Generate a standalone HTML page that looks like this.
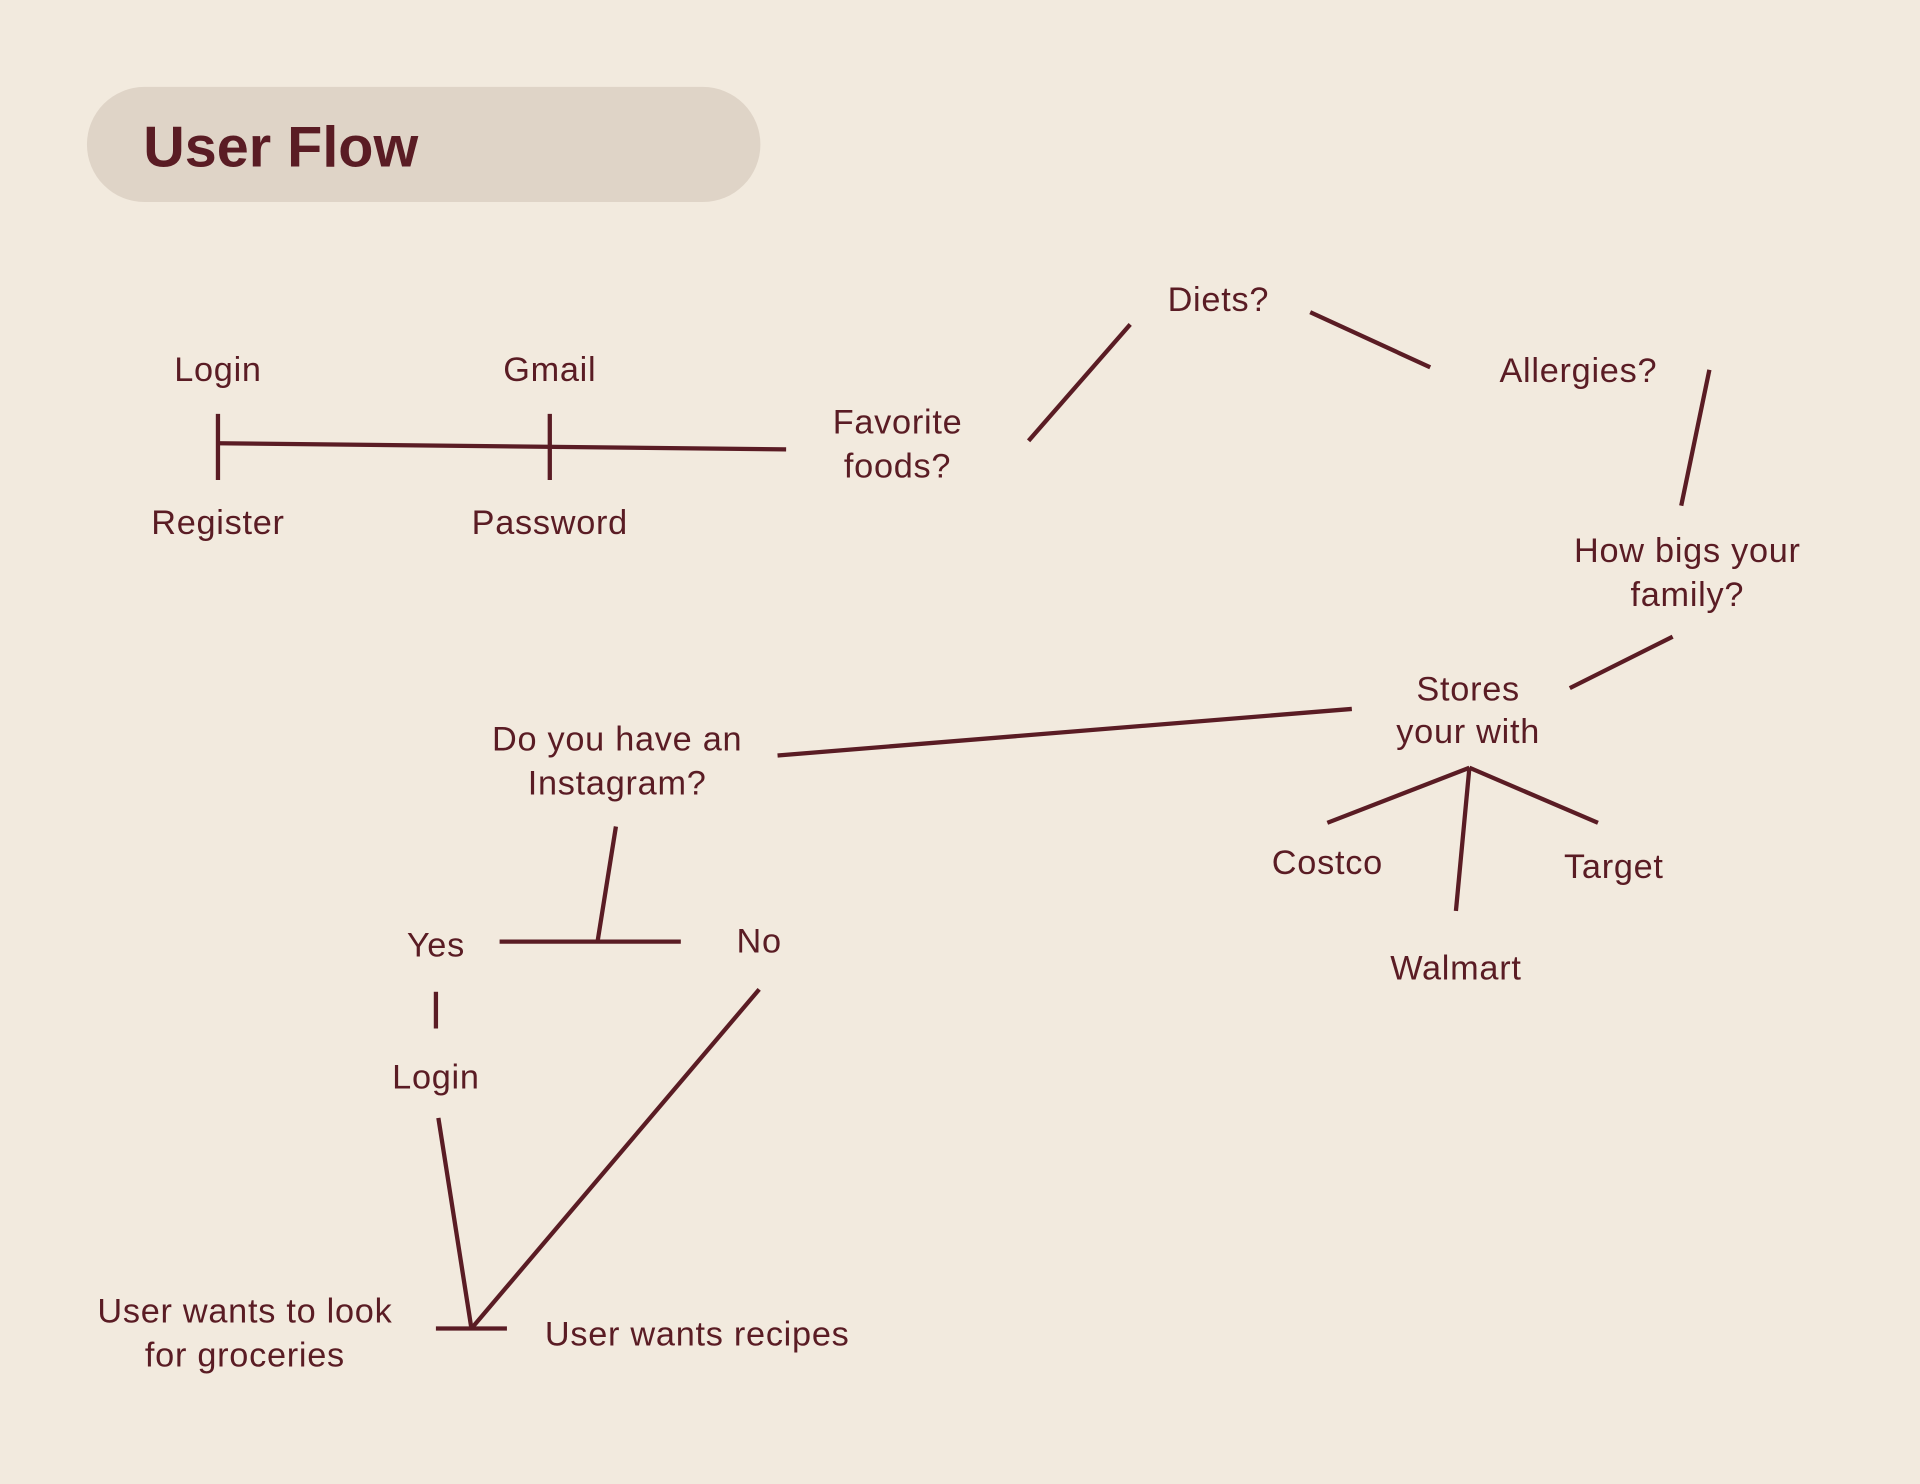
<!DOCTYPE html>
<html><head><meta charset="utf-8"><style>
html,body{margin:0;padding:0;background:#f2eade;}
svg{display:block}
text{font-family:"Liberation Sans",sans-serif;font-size:28px;letter-spacing:0.6px;fill:#5a1c24;text-anchor:middle}
</style></head><body>
<svg width="1920" height="1484" viewBox="0 0 1568 1212" preserveAspectRatio="none">
<rect width="1568" height="1212" fill="#f2eade"/>
<rect x="71" y="71" width="550" height="94" rx="47" fill="#dfd4c7"/>
<text x="117" y="136" style="font-weight:bold;font-size:47px;letter-spacing:0;text-anchor:start">User Flow</text>
<g stroke="#5a1c24" stroke-width="3.5" fill="none" stroke-linecap="butt">
<line x1="178" y1="338" x2="178" y2="392"/>
<line x1="178" y1="362" x2="642" y2="367"/>
<line x1="449" y1="338" x2="449" y2="392"/>
<line x1="840" y1="360" x2="923" y2="265"/>
<line x1="1070" y1="255" x2="1168" y2="300"/>
<line x1="1396" y1="302" x2="1373" y2="413"/>
<line x1="1366" y1="520" x2="1282" y2="562"/>
<line x1="1104" y1="579" x2="635" y2="617"/>
<line x1="1200" y1="627" x2="1084" y2="672"/>
<line x1="1200" y1="627" x2="1305" y2="672"/>
<line x1="1200" y1="627" x2="1189" y2="744"/>
<line x1="503" y1="675" x2="488" y2="769"/>
<line x1="408" y1="769" x2="556" y2="769"/>
<line x1="356" y1="810" x2="356" y2="840"/>
<line x1="358" y1="913" x2="385" y2="1085"/>
<line x1="620" y1="808" x2="385" y2="1085"/>
<line x1="356" y1="1085" x2="414" y2="1085"/>
</g>
<text x="178" y="311">Login</text>
<text x="449" y="311">Gmail</text>
<text x="178" y="436">Register</text>
<text x="449" y="436">Password</text>
<text x="733" y="354">Favorite</text>
<text x="733" y="390">foods?</text>
<text x="995" y="254">Diets?</text>
<text x="1289" y="312">Allergies?</text>
<text x="1378" y="459">How bigs your</text>
<text x="1378" y="495">family?</text>
<text x="1199" y="572">Stores</text>
<text x="1199" y="607">your with</text>
<text x="504" y="613">Do you have an</text>
<text x="504" y="649">Instagram?</text>
<text x="356" y="781">Yes</text>
<text x="620" y="778">No</text>
<text x="356" y="889">Login</text>
<text x="1084" y="714">Costco</text>
<text x="1318" y="717">Target</text>
<text x="1189" y="800">Walmart</text>
<text x="200" y="1080">User wants to look</text>
<text x="200" y="1116">for groceries</text>
<text x="445" y="1099" style="text-anchor:start">User wants recipes</text>
</svg>
</body></html>
